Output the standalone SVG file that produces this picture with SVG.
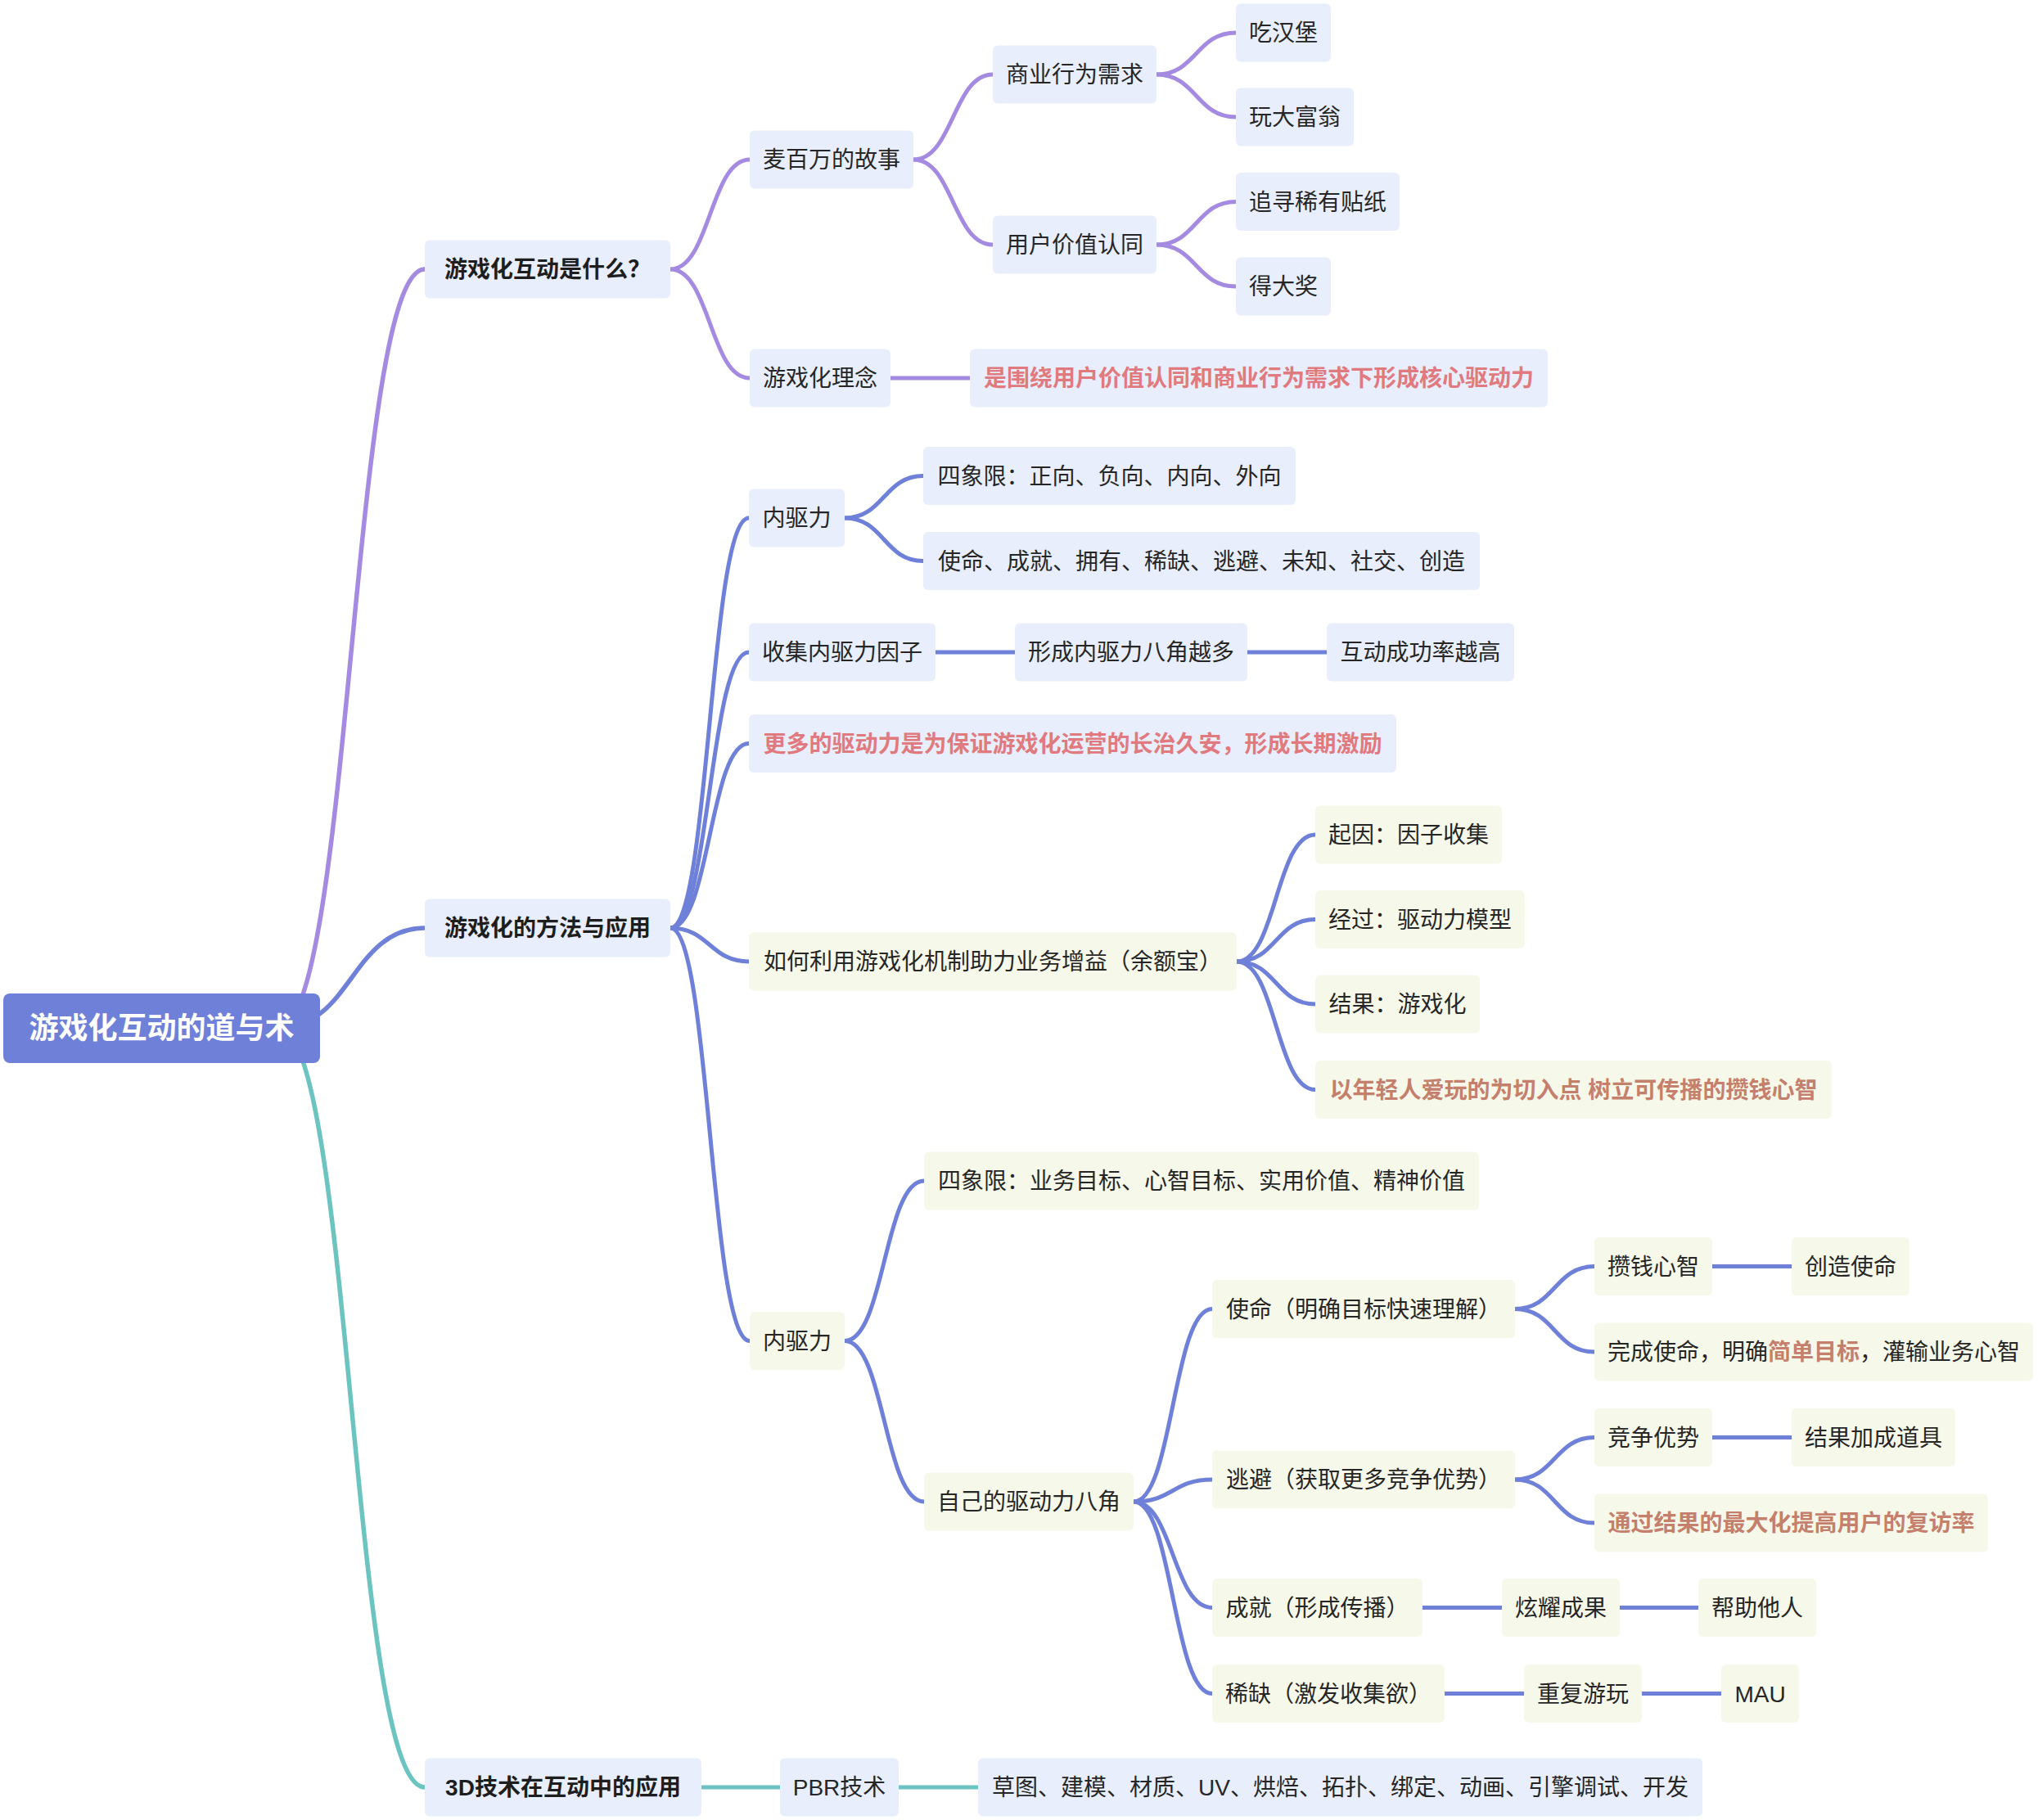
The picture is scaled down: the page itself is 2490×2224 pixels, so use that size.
<svg xmlns="http://www.w3.org/2000/svg" width="2490" height="2224" viewBox="0 0 2490 2224">
<style>
  text { font-family: "Liberation Sans", "Noto Sans CJK SC", sans-serif; font-size: 28px; fill: #262626; text-anchor: middle; }
  .nb { fill: #e8eefb; }
  .ny { fill: #f6f8e9; }
  .root { fill: #6e80d8; }
  .tw { fill: #ffffff; font-size: 36px; font-weight: bold; }
  .tb { font-weight: bold; fill: #1e1e1e; }
  .tr { font-weight: bold; fill: #e07a7f; }
  .to { font-weight: bold; fill: #c4806c; }
  .ln { fill: none; stroke-width: 5; stroke-linecap: round; }
  .lp { stroke: #a48ae0; }
  .lb { stroke: #6e80d8; }
  .lt { stroke: #6cc4c0; }
  .l0 { stroke-width: 5.5; }
</style>
<rect width="2490" height="2224" fill="#ffffff"/>
<g id="connectors">
  <path class="ln lp l0" d="M340,1256 C429.5,1256 429.5,329 519,329"/>
  <path class="ln lb l0" d="M340,1256 C429.5,1256 429.5,1134 519,1134"/>
  <path class="ln lt l0" d="M340,1256 C429.5,1256 429.5,2184 519,2184"/>
  <path class="ln lp" d="M819,329 C867.5,329 867.5,195 916,195"/>
  <path class="ln lp" d="M819,329 C867.5,329 867.5,462 916,462"/>
  <path class="ln lp" d="M1116,195 C1164.5,195 1164.5,91 1213,91"/>
  <path class="ln lp" d="M1116,195 C1164.5,195 1164.5,299 1213,299"/>
  <path class="ln lp" d="M1413,91 C1461.5,91 1461.5,40 1510,40"/>
  <path class="ln lp" d="M1413,91 C1461.5,91 1461.5,143 1510,143"/>
  <path class="ln lp" d="M1413,299 C1461.5,299 1461.5,246.5 1510,246.5"/>
  <path class="ln lp" d="M1413,299 C1461.5,299 1461.5,350 1510,350"/>
  <path class="ln lp" d="M1088,462 L1185,462"/>
  <path class="ln lb" d="M819,1134 C867,1134 867,633 915,633"/>
  <path class="ln lb" d="M819,1134 C867,1134 867,797 915,797"/>
  <path class="ln lb" d="M819,1134 C867,1134 867,908.5 915,908.5"/>
  <path class="ln lb" d="M819,1134 C867,1134 867,1175 915,1175"/>
  <path class="ln lb" d="M819,1134 C867.5,1134 867.5,1638.5 916,1638.5"/>
  <path class="ln lb" d="M1032,633 C1080,633 1080,581.5 1128,581.5"/>
  <path class="ln lb" d="M1032,633 C1080,633 1080,685.5 1128,685.5"/>
  <path class="ln lb" d="M1143,797 L1240,797"/>
  <path class="ln lb" d="M1524,797 L1621,797"/>
  <path class="ln lb" d="M1511,1175 C1559,1175 1559,1020 1607,1020"/>
  <path class="ln lb" d="M1511,1175 C1559,1175 1559,1123.5 1607,1123.5"/>
  <path class="ln lb" d="M1511,1175 C1559,1175 1559,1227 1607,1227"/>
  <path class="ln lb" d="M1511,1175 C1559,1175 1559,1331.5 1607,1331.5"/>
  <path class="ln lb" d="M1032,1638.5 C1080.5,1638.5 1080.5,1443 1129,1443"/>
  <path class="ln lb" d="M1032,1638.5 C1080.5,1638.5 1080.5,1835 1129,1835"/>
  <path class="ln lb" d="M1385,1835 C1433,1835 1433,1599.5 1481,1599.5"/>
  <path class="ln lb" d="M1385,1835 C1433,1835 1433,1808 1481,1808"/>
  <path class="ln lb" d="M1385,1835 C1433,1835 1433,1964.5 1481,1964.5"/>
  <path class="ln lb" d="M1385,1835 C1433,1835 1433,2069.5 1481,2069.5"/>
  <path class="ln lb" d="M1851,1599.5 C1899.5,1599.5 1899.5,1547.5 1948,1547.5"/>
  <path class="ln lb" d="M1851,1599.5 C1899.5,1599.5 1899.5,1652 1948,1652"/>
  <path class="ln lb" d="M2092,1547.5 L2189,1547.5"/>
  <path class="ln lb" d="M1851,1808 C1899.5,1808 1899.5,1756.5 1948,1756.5"/>
  <path class="ln lb" d="M1851,1808 C1899.5,1808 1899.5,1861 1948,1861"/>
  <path class="ln lb" d="M2092,1756.5 L2189,1756.5"/>
  <path class="ln lb" d="M1738,1964.5 L1835,1964.5"/>
  <path class="ln lb" d="M1979,1964.5 L2075,1964.5"/>
  <path class="ln lb" d="M1765,2069.5 L1862,2069.5"/>
  <path class="ln lb" d="M2006,2069.5 L2103,2069.5"/>
  <path class="ln lt" d="M857,2184 L953,2184"/>
  <path class="ln lt" d="M1098,2184 L1195,2184"/>
</g>
<g id="root"><rect class="root" x="4" y="1214" width="387" height="85" rx="8"/><text class="tw" x="197.5" y="1269">游戏化互动的道与术</text></g>
<g id="n-what"><rect class="nb" x="519" y="293.5" width="300" height="71" rx="6"/><text class="tb" x="669" y="339">游戏化互动是什么？</text></g>
<g id="n-method"><rect class="nb" x="519" y="1098.5" width="300" height="71" rx="6"/><text class="tb" x="669" y="1144">游戏化的方法与应用</text></g>
<g id="n-3d"><rect class="nb" x="519" y="2148.5" width="338" height="71" rx="6"/><text class="tb" x="688" y="2194">3D技术在互动中的应用</text></g>
<g id="n-story"><rect class="nb" x="916" y="159.5" width="200" height="71" rx="6"/><text x="1016" y="205">麦百万的故事</text></g>
<g id="n-idea"><rect class="nb" x="916" y="426.5" width="172" height="71" rx="6"/><text x="1002" y="472">游戏化理念</text></g>
<g id="n-biz"><rect class="nb" x="1213" y="55.5" width="200" height="71" rx="6"/><text x="1313" y="101">商业行为需求</text></g>
<g id="n-user"><rect class="nb" x="1213" y="263.5" width="200" height="71" rx="6"/><text x="1313" y="309">用户价值认同</text></g>
<g id="n-burger"><rect class="nb" x="1510" y="4.5" width="116" height="71" rx="6"/><text x="1568" y="50">吃汉堡</text></g>
<g id="n-monopoly"><rect class="nb" x="1510" y="107.5" width="144" height="71" rx="6"/><text x="1582" y="153">玩大富翁</text></g>
<g id="n-sticker"><rect class="nb" x="1510" y="211" width="200" height="71" rx="6"/><text x="1610" y="256.5">追寻稀有贴纸</text></g>
<g id="n-prize"><rect class="nb" x="1510" y="314.5" width="116" height="71" rx="6"/><text x="1568" y="360">得大奖</text></g>
<g id="n-idea-desc"><rect class="nb" x="1185" y="426.5" width="706" height="71" rx="6"/><text class="tr" x="1538" y="472">是围绕用户价值认同和商业行为需求下形成核心驱动力</text></g>
<g id="n-drive1"><rect class="nb" x="915" y="597.5" width="117" height="71" rx="6"/><text x="973.5" y="643">内驱力</text></g>
<g id="n-quad1"><rect class="nb" x="1128" y="546" width="455" height="71" rx="6"/><text x="1355.5" y="591.5">四象限：正向、负向、内向、外向</text></g>
<g id="n-eight"><rect class="nb" x="1128" y="650" width="680" height="71" rx="6"/><text x="1468" y="695.5">使命、成就、拥有、稀缺、逃避、未知、社交、创造</text></g>
<g id="n-collect"><rect class="nb" x="915" y="761.5" width="228" height="71" rx="6"/><text x="1029" y="807">收集内驱力因子</text></g>
<g id="n-more"><rect class="nb" x="1240" y="761.5" width="284" height="71" rx="6"/><text x="1382" y="807">形成内驱力八角越多</text></g>
<g id="n-rate"><rect class="nb" x="1621" y="761.5" width="229" height="71" rx="6"/><text x="1735.5" y="807">互动成功率越高</text></g>
<g id="n-long"><rect class="nb" x="915" y="873" width="791" height="71" rx="6"/><text class="tr" x="1310.5" y="918.5">更多的驱动力是为保证游戏化运营的长治久安，形成长期激励</text></g>
<g id="n-yuebao"><rect class="ny" x="915" y="1139.5" width="596" height="71" rx="6"/><text x="1213" y="1185">如何利用游戏化机制助力业务增益（余额宝）</text></g>
<g id="n-cause"><rect class="ny" x="1607" y="984.5" width="228" height="71" rx="6"/><text x="1721" y="1030">起因：因子收集</text></g>
<g id="n-process"><rect class="ny" x="1607" y="1088" width="256" height="71" rx="6"/><text x="1735" y="1133.5">经过：驱动力模型</text></g>
<g id="n-result"><rect class="ny" x="1607" y="1191.5" width="201" height="71" rx="6"/><text x="1707.5" y="1237">结果：游戏化</text></g>
<g id="n-young"><rect class="ny" x="1607" y="1296" width="631" height="71" rx="6"/><text class="to" x="1922.5" y="1341.5">以年轻人爱玩的为切入点 树立可传播的攒钱心智</text></g>
<g id="n-drive2"><rect class="ny" x="916" y="1603" width="116" height="71" rx="6"/><text x="974" y="1648.5">内驱力</text></g>
<g id="n-quad2"><rect class="ny" x="1129" y="1407.5" width="678" height="71" rx="6"/><text x="1468" y="1453">四象限：业务目标、心智目标、实用价值、精神价值</text></g>
<g id="n-own8"><rect class="ny" x="1129" y="1799.5" width="256" height="71" rx="6"/><text x="1257" y="1845">自己的驱动力八角</text></g>
<g id="n-mission"><rect class="ny" x="1481" y="1564" width="370" height="71" rx="6"/><text x="1666" y="1609.5">使命（明确目标快速理解）</text></g>
<g id="n-escape"><rect class="ny" x="1481" y="1772.5" width="370" height="71" rx="6"/><text x="1666" y="1818">逃避（获取更多竞争优势）</text></g>
<g id="n-achieve"><rect class="ny" x="1481" y="1929" width="257" height="71" rx="6"/><text x="1609.5" y="1974.5">成就（形成传播）</text></g>
<g id="n-scarce"><rect class="ny" x="1481" y="2034" width="284" height="71" rx="6"/><text x="1623" y="2079.5">稀缺（激发收集欲）</text></g>
<g id="n-save"><rect class="ny" x="1948" y="1512" width="144" height="71" rx="6"/><text x="2020" y="1557.5">攒钱心智</text></g>
<g id="n-create"><rect class="ny" x="2189" y="1512" width="144" height="71" rx="6"/><text x="2261" y="1557.5">创造使命</text></g>
<g id="n-complete"><rect class="ny" x="1948" y="1616.5" width="536" height="71" rx="6"/><text x="2216" y="1662">完成使命，明确<tspan class="to">简单目标</tspan>，灌输业务心智</text></g>
<g id="n-compete"><rect class="ny" x="1948" y="1721" width="144" height="71" rx="6"/><text x="2020" y="1766.5">竞争优势</text></g>
<g id="n-bonus"><rect class="ny" x="2189" y="1721" width="200" height="71" rx="6"/><text x="2289" y="1766.5">结果加成道具</text></g>
<g id="n-revisit"><rect class="ny" x="1948" y="1825.5" width="481" height="71" rx="6"/><text class="to" x="2188.5" y="1871">通过结果的最大化提高用户的复访率</text></g>
<g id="n-show"><rect class="ny" x="1835" y="1929" width="144" height="71" rx="6"/><text x="1907" y="1974.5">炫耀成果</text></g>
<g id="n-help"><rect class="ny" x="2075" y="1929" width="144" height="71" rx="6"/><text x="2147" y="1974.5">帮助他人</text></g>
<g id="n-replay"><rect class="ny" x="1862" y="2034" width="144" height="71" rx="6"/><text x="1934" y="2079.5">重复游玩</text></g>
<g id="n-mau"><rect class="ny" x="2103" y="2034" width="95" height="71" rx="6"/><text x="2150.5" y="2079.5">MAU</text></g>
<g id="n-pbr"><rect class="nb" x="953" y="2148.5" width="145" height="71" rx="6"/><text x="1025.5" y="2194">PBR技术</text></g>
<g id="n-steps"><rect class="nb" x="1195" y="2148.5" width="885" height="71" rx="6"/><text x="1637.5" y="2194">草图、建模、材质、UV、烘焙、拓扑、绑定、动画、引擎调试、开发</text></g>
</svg>
